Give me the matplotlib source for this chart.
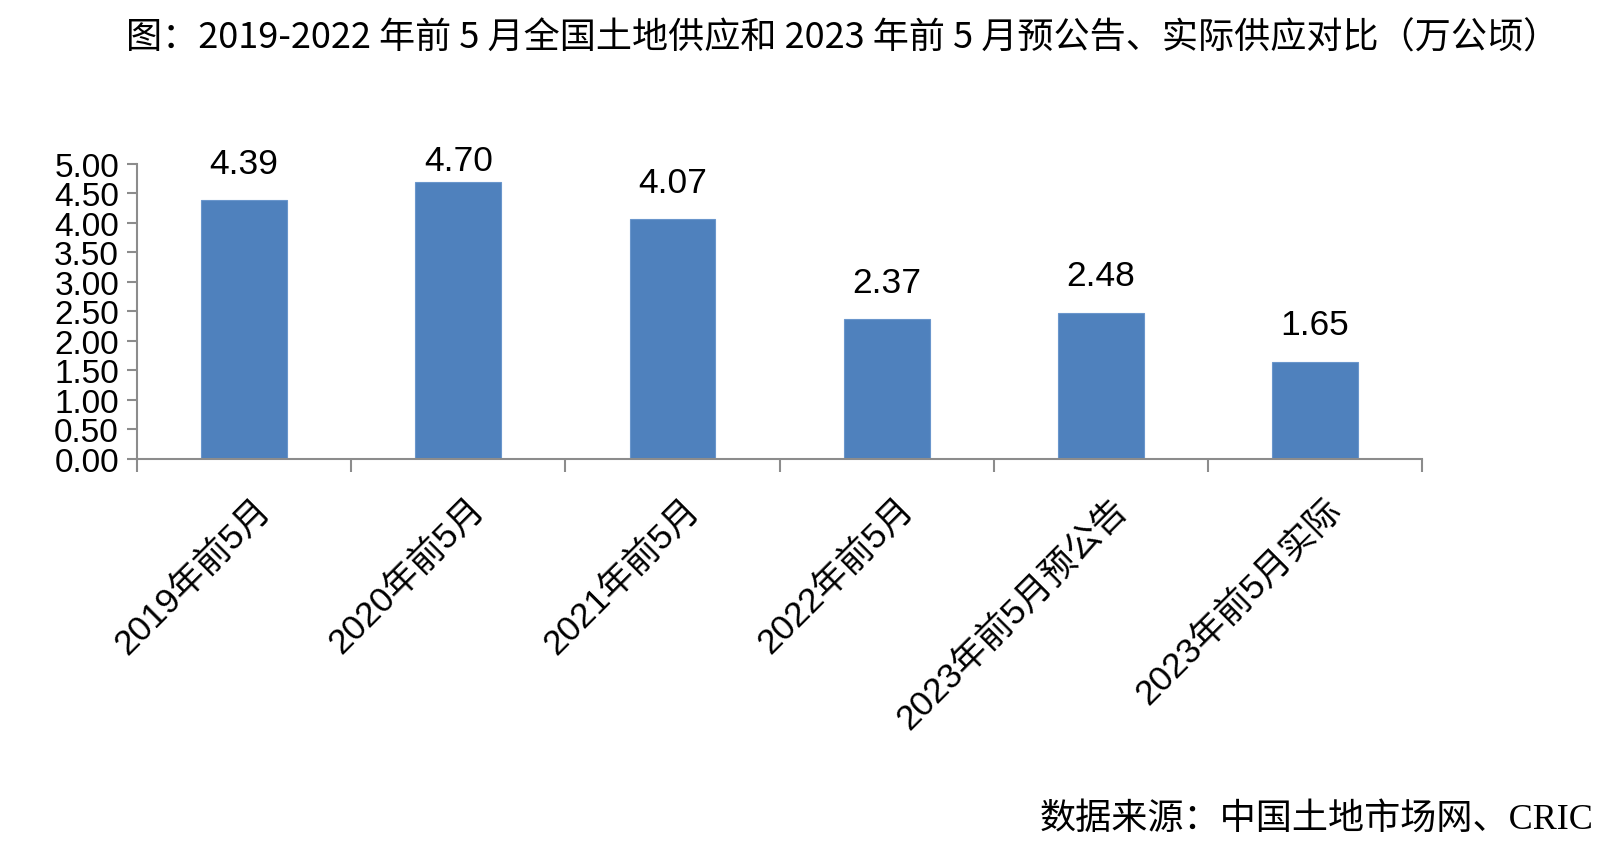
import numpy as np
import matplotlib.pyplot as plt
from matplotlib.transforms import ScaledTranslation

plt.rcParams['font.family'] = ['Liberation Sans', 'Noto Sans CJK SC', 'DejaVu Sans']

categories = ['2019年前5月', '2020年前5月', '2021年前5月', '2022年前5月',
              '2023年前5月预公告', '2023年前5月实际']
supply = [4.39, 4.70, 4.07, 2.37, 2.48, 1.65]
yticks = [0.0, 0.5, 1.0, 1.5, 2.0, 2.5, 3.0, 3.5, 4.0, 4.5, 5.0]

title = '图：2019-2022 年前 5 月全国土地供应和 2023 年前 5 月预公告、实际供应对比（万公顷）'
source = '数据来源：中国土地市场网、CRIC'

fig = plt.figure(figsize=(16.18, 8.54), dpi=100)
ax = fig.add_axes([0.0847, 0.4614, 0.879 - 0.0847, 0.807 - 0.4614])

x = np.arange(len(categories))
ax.bar(x, supply, width=0.4, color='#4F81BD', edgecolor='#6A96CC', linewidth=0.8, zorder=2)

# labels sit above the bars but never higher than just above the plot top
for xi, v in zip(x, supply):
    ax.text(xi, min(v + 0.62, 5.06), '%.2f' % v, ha='center', va='center',
            fontsize=25.5, clip_on=False)

ax.set_xlim(-0.5, len(categories) - 0.5)
ax.set_ylim(0, 5)
ax.set_yticks(yticks)
ax.set_yticklabels(['%.2f' % t for t in yticks], fontsize=24)

# boundary ticks (major), labels on centers (minor)
ax.set_xticks(np.arange(-0.5, len(categories), 1.0))
ax.set_xticklabels([])
ax.set_xticks(x, minor=True)
ax.set_xticklabels(categories, minor=True, rotation=45, ha='right',
                   rotation_mode='anchor', fontsize=25.5)
ax.tick_params(axis='x', which='minor', length=0, pad=24)
ax.tick_params(axis='x', which='major', length=9, width=1.5, color='#8C8C8C', direction='out')
ax.tick_params(axis='y', length=7, width=1.5, color='#8C8C8C', pad=6)

off = ScaledTranslation(0.10, 0, fig.dpi_scale_trans)
for lab in ax.get_xticklabels(minor=True):
    lab.set_transform(lab.get_transform() + off)

for s in ['top', 'right']:
    ax.spines[s].set_visible(False)
for s in ['left', 'bottom']:
    ax.spines[s].set_color('#8C8C8C')
    ax.spines[s].set_linewidth(1.5)

fig.text(0.521, 0.955, title, ha='center', va='center', fontsize=26,
         family=['Liberation Sans Narrow', 'Noto Sans CJK SC', 'DejaVu Sans'])
fig.text(0.985, 0.04, source, ha='right', va='center', fontsize=26,
         family=['Liberation Serif', 'Noto Sans CJK SC', 'DejaVu Sans'])

fig.savefig('out.png', dpi=100)
